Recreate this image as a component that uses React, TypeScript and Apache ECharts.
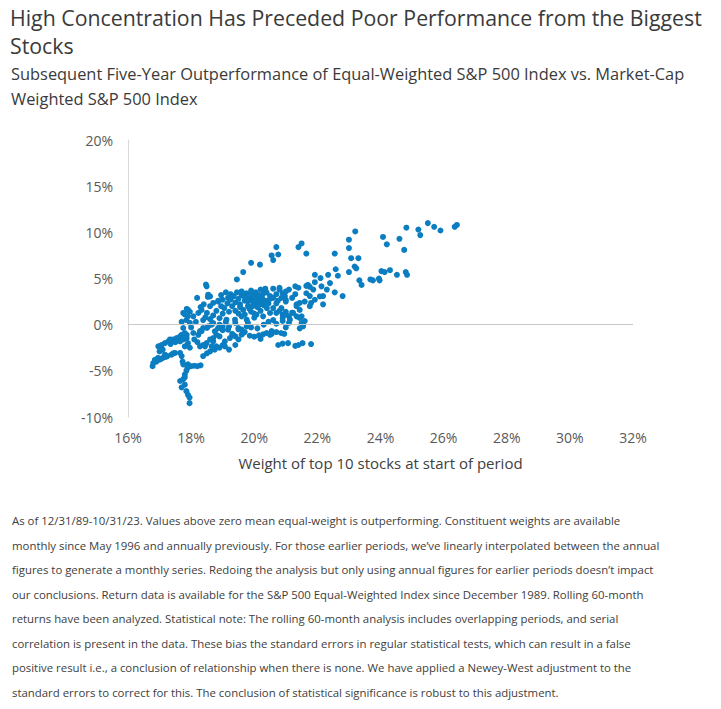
import React, { useEffect, useRef } from "react";
import * as echarts from "echarts";

const TITLE = "High Concentration Has Preceded Poor Performance from the Biggest\nStocks";
const SUBTITLE = "Subsequent Five-Year Outperformance of Equal-Weighted S&P 500 Index vs. Market-Cap\nWeighted S&P 500 Index";
const X_NAME = "Weight of top 10 stocks at start of period";
const FOOTNOTE = [
  "As of 12/31/89-10/31/23. Values above zero mean equal-weight is outperforming. Constituent weights are available",
  "monthly since May 1996 and annually previously. For those earlier periods, we\u2019ve linearly interpolated between the annual",
  "figures to generate a monthly series. Redoing the analysis but only using annual figures for earlier periods doesn\u2019t impact",
  "our conclusions. Return data is available for the S&P 500 Equal-Weighted Index since December 1989. Rolling 60-month",
  "returns have been analyzed. Statistical note: The rolling 60-month analysis includes overlapping periods, and serial",
  "correlation is present in the data. These bias the standard errors in regular statistical tests, which can result in a false",
  "positive result i.e., a conclusion of relationship when there is none. We have applied a Newey-West adjustment to the",
  "standard errors to correct for this. The conclusion of statistical significance is robust to this adjustment.",
];

// [weight of top 10 (%), subsequent 5y outperformance (%)]
const leftTail = [
  [16.78, -4.5], [16.8, -4.15], [16.85, -3.8], [16.9, -4.0], [16.95, -3.6], [17.0, -3.8], [17.05, -3.7],
  [17.1, -3.6], [17.17, -3.25], [17.25, -3.4], [17.38, -3.25], [17.49, -3.06], [16.96, -2.35], [17.0, -2.9],
  [17.06, -2.2], [17.1, -2.7], [17.17, -2.0], [17.28, -1.8], [17.35, -2.1], [17.43, -1.6], [17.54, -1.45],
  [17.5, -1.9], [17.43, -3.1], [17.7, -3.4], [17.73, -4.0], [17.65, -3.06], [17.33, -1.6], [17.2, -3.5],
];
const dropBranch = [
  [17.9, -4.3], [17.88, -4.7], [17.85, -5.0], [17.8, -5.4], [17.8, -5.7], [17.75, -5.9], [17.65, -6.1],
  [17.8, -6.5], [17.7, -6.8], [17.85, -7.2], [17.9, -7.6], [17.95, -7.9], [17.95, -8.5], [17.75, -4.3],
  [18.0, -4.5], [18.1, -4.45], [18.2, -4.5], [18.3, -4.4],
];
const lowerBand = [
  [17.65, -1.27], [17.7, -1.1], [17.75, -1.6], [17.65, -1.8], [17.86, -1.45], [17.9, -2.0], [17.8, -2.35],
  [17.96, -2.5], [17.86, -1.1], [18.07, -0.9], [18.28, -0.7], [17.75, -0.36], [17.8, -0.9], [18.0, -0.3],
  [18.1, -1.6], [18.2, -1.9], [18.28, -2.35], [18.38, -2.2], [18.49, -2.0], [18.6, -1.6], [18.7, -1.45],
  [18.8, -1.1], [18.23, -1.1], [18.33, -0.7], [18.5, -0.36], [18.65, 0.0], [18.38, -0.36], [18.54, -0.18],
  [18.7, 0.18], [18.9, 0.0], [18.38, -3.4], [18.5, -3.1], [18.6, -2.9], [18.75, -2.7], [18.9, -2.5],
  [19.07, -2.35], [19.2, -2.7], [19.4, -2.2], [19.5, -1.6], [19.65, -0.9], [19.76, -0.2], [19.0, -0.2],
  [19.17, -0.54], [18.75, -0.72], [18.9, -1.27], [18.7, -1.8], [18.65, -2.35], [19.07, -1.8], [19.33, -1.1],
  [19.6, -0.54], [18.85, -0.4], [19.0, -0.6], [19.2, -0.2], [19.3, -1.0], [19.5, -0.5], [19.7, -0.8],
  [19.9, -0.3], [20.1, -0.4], [20.55, -0.7], [18.44, -2.35], [18.8, -2.35], [19.0, -2.2], [19.23, -1.45],
  [19.5, -0.36], [19.4, -1.27], [19.6, -1.08],
];
const lowRow = [
  [19.86, -1.2], [20.0, -1.3], [20.15, -1.15], [20.28, -1.05], [20.39, -0.9], [20.55, -1.0], [20.7, -0.8],
  [20.85, -0.9], [20.95, -1.0], [20.76, -2.2], [20.9, -2.05], [21.07, -2.0], [21.3, -2.3], [21.4, -2.2],
  [21.53, -2.0], [21.8, -2.1], [20.2, -1.55], [20.5, -1.1],
];
const upperLeft = [
  [17.75, 1.27], [17.9, 1.6], [17.85, 0.5], [17.96, 0.2], [18.07, 0.9], [18.23, 1.27], [18.33, 1.6],
  [18.5, 1.27], [18.38, 0.5], [17.86, 1.7], [17.96, 1.4], [17.8, 1.1], [17.9, 0.9], [18.15, 0.3], [17.7, 0.3],
  [18.49, 4.15], [18.47, 4.35], [18.53, 3.0], [18.54, 3.25], [18.6, 3.06], [18.19, 2.9], [18.86, 2.6],
  [18.6, 2.0], [18.7, 2.35], [18.86, 2.5], [19.0, 2.7], [19.17, 2.9], [19.33, 3.06], [18.4, 2.2], [18.3, 1.9],
  [18.95, 3.2], [19.1, 3.5], [19.25, 3.3], [18.7, 1.0], [18.8, 1.5], [18.9, 0.7], [19.0, 1.2], [19.05, 1.8],
  [19.1, 0.3], [19.2, 1.4], [18.6, 0.6], [18.95, 2.0], [19.15, 2.3], [18.45, 0.8],
];
const denseCore = [
  [19.3, 2.0], [19.4, 2.4], [19.5, 2.8], [19.55, 2.2], [19.6, 3.2], [19.7, 2.6], [19.75, 3.4], [19.8, 2.0],
  [19.85, 2.9], [19.9, 3.3], [19.95, 2.5], [20.0, 3.0], [20.0, 2.2], [20.05, 3.5], [20.1, 2.7], [20.1, 1.9],
  [20.15, 3.2], [20.2, 2.4], [20.25, 2.9], [20.3, 2.1], [20.3, 3.4], [20.35, 2.6], [20.4, 1.8], [20.45, 2.3],
  [20.5, 2.8], [19.4, 1.5], [19.5, 1.2], [19.65, 1.6], [19.7, 1.1], [19.9, 1.4], [20.0, 1.2], [20.2, 1.5],
  [19.25, 2.7], [19.35, 3.1], [19.45, 3.5], [19.6, 3.6], [19.9, 3.7], [20.2, 3.8], [20.35, 3.9], [19.8, 2.5],
  [19.95, 2.0], [20.05, 2.6], [19.7, 3.0], [20.15, 2.1], [19.55, 1.9], [19.85, 1.7], [19.12, 0.54],
  [19.39, 0.54], [19.6, 0.9], [19.76, 0.54], [20.07, 1.08], [20.28, 0.9], [20.5, 1.27], [20.7, 1.27],
  [20.9, 1.08], [21.1, 0.9], [21.34, 0.9], [19.4, 0.2], [19.8, 0.2], [20.3, 0.0], [20.45, 0.3], [20.6, 0.5],
  [20.7, 0.1], [20.9, 0.4], [21.0, -0.3], [21.1, 0.2], [20.0, 0.75],
];
const midRight = [
  [20.6, 2.9], [20.7, 3.3], [20.6, 3.9], [20.75, 2.6], [20.9, 3.4], [21.1, 3.8], [21.2, 2.9], [21.3, 3.3],
  [20.8, 3.8], [20.97, 3.1], [21.0, 2.7], [20.39, 3.5], [20.5, 3.1], [21.3, 4.15], [20.8, 4.0], [21.0, 3.6],
  [20.86, 2.9], [21.0, 2.5], [20.86, 1.8], [21.0, 1.4], [21.2, 1.3], [21.34, 2.2], [21.44, 1.6], [21.5, 0.9],
  [21.55, 0.0], [21.44, -0.4], [21.6, 0.4], [21.23, 1.27], [21.13, 0.54], [21.44, 0.72], [21.5, 0.18],
  [21.55, -0.18], [20.9, 0.72], [21.0, 1.08], [21.34, 2.0], [21.44, 2.35], [21.4, 4.0], [20.6, 1.8],
  [20.7, 2.3], [20.8, 1.5],
];
const rightBand = [
  [21.92, 5.4], [22.1, 5.05], [22.34, 5.4], [22.58, 6.0], [22.65, 5.3], [22.4, 4.5], [21.92, 4.6],
  [21.65, 4.2], [21.76, 4.1], [21.87, 3.8], [22.3, 3.8], [22.55, 3.5], [22.8, 3.1], [22.18, 3.1],
  [21.76, 3.1], [22.13, 4.15], [21.8, 2.35], [22.18, 2.2], [21.76, 2.0], [21.92, 2.7], [22.08, 3.06],
  [21.7, 4.3], [21.65, 3.4], [21.6, 2.5], [23.0, 5.7], [23.18, 6.3], [23.23, 6.1], [23.33, 4.8],
  [23.4, 4.3], [23.68, 4.9], [23.76, 4.8], [23.95, 5.0], [23.97, 4.8], [24.03, 5.8], [24.13, 5.7],
  [24.3, 5.9], [24.52, 5.4], [24.8, 5.7], [24.84, 5.4],
];
const upperBranch = [
  [19.45, 4.9], [19.65, 5.7], [19.9, 6.7], [20.18, 6.5], [20.55, 7.5], [20.6, 7.0], [20.76, 7.6],
  [20.7, 8.4], [21.4, 8.4], [21.5, 8.8], [21.65, 7.7], [22.55, 7.7], [23.0, 9.2], [23.2, 10.1], [23.0, 8.3],
  [23.07, 7.2], [23.3, 7.2], [24.08, 9.5], [24.2, 8.7], [24.6, 9.3], [24.75, 8.1], [24.82, 10.5],
  [25.2, 10.3], [25.26, 9.7], [25.5, 11.0], [25.7, 10.6], [25.9, 10.2], [26.35, 10.6], [26.42, 10.8],
];

const X_MIN = 16, X_MAX = 32, X_STEP = 2;
const Y_MIN = -10, Y_MAX = 20, Y_STEP = 5;

const FONT = "'Open Sans', 'Noto Sans', sans-serif";
const DOT = "#0b7dc1";

export default function App() {
  const ref = useRef<HTMLDivElement>(null);
  useEffect(() => {
    if (!ref.current) return;
    const chart = echarts.init(ref.current, undefined, { renderer: "svg" });
    const points = [
      ...leftTail, ...dropBranch, ...lowerBand, ...lowRow, ...upperLeft,
      ...denseCore, ...midRight, ...rightBand, ...upperBranch,
    ];
    chart.setOption({
      animation: false,
      backgroundColor: "#ffffff",
      textStyle: { fontFamily: FONT },
      title: [
        {
          text: TITLE, left: 10, top: 3, padding: 0,
          textStyle: { fontFamily: FONT, fontSize: 21.3, fontWeight: "normal", color: "#3a3a3a", lineHeight: 28 },
        },
        {
          text: SUBTITLE, left: 11, top: 61, padding: 0,
          textStyle: { fontFamily: FONT, fontSize: 16.4, fontWeight: "normal", color: "#3a3a3a", lineHeight: 25 },
        },
      ],
      graphic: FOOTNOTE.map((line, i) => ({
        type: "text", left: 12, top: 515 + i * 24.5,
        style: { text: line, fontFamily: FONT, fontSize: 11.4, fill: "#404040" },
      })),
      grid: { left: 128, top: 140, width: 505, height: 277, containLabel: false },
      xAxis: {
        type: "value", min: X_MIN, max: X_MAX, interval: X_STEP,
        axisLine: { show: false }, axisTick: { show: false }, splitLine: { show: false },
        axisLabel: { formatter: (v: number) => v + "%", color: "#595959", fontSize: 14, margin: 13, fontFamily: FONT },
        name: X_NAME, nameLocation: "middle", nameGap: 38,
        nameTextStyle: { fontSize: 15, color: "#404040", fontFamily: FONT },
      },
      yAxis: {
        type: "value", min: Y_MIN, max: Y_MAX, interval: Y_STEP,
        axisLine: { show: true, onZero: false, lineStyle: { color: "#d9d9d9", width: 1 } },
        axisTick: { show: false }, splitLine: { show: false },
        axisLabel: { formatter: (v: number) => v + "%", color: "#595959", fontSize: 14, margin: 15, fontFamily: FONT },
      },
      series: [
        {
          type: "scatter", data: points, symbolSize: 6,
          itemStyle: { color: DOT, opacity: 1 },
          markLine: {
            silent: true, symbol: "none", label: { show: false },
            lineStyle: { color: "#c8c8c8", type: "solid", width: 1 },
            data: [{ yAxis: 0 }],
          },
          z: 3,
        },
      ],
    });
    return () => chart.dispose();
  }, []);
  return <div ref={ref} style={{ position: "fixed", left: 0, top: 0, width: 721, height: 709 }} />;
}
